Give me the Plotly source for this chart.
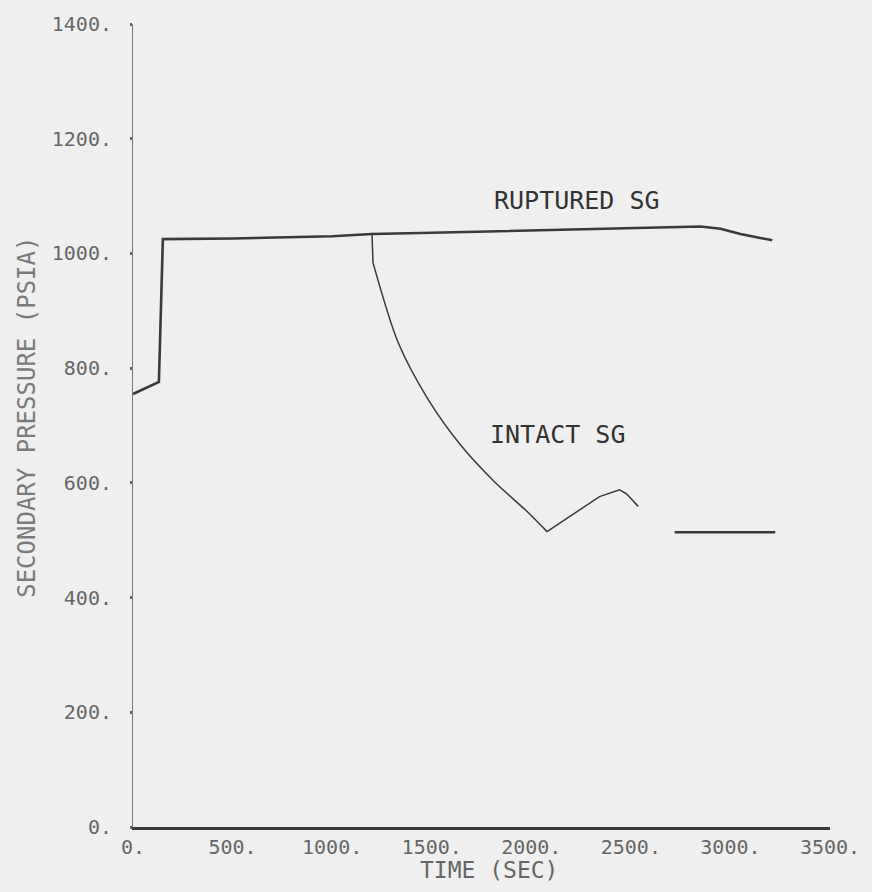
import plotly.graph_objects as go

# Secondary-side pressure after a steam generator tube rupture
ruptured_t = [0, 130, 150, 500, 1000, 1200, 1500, 2000, 2500, 2850, 2950, 3050, 3150, 3210]
ruptured_p = [755, 776, 1025, 1026, 1030, 1034, 1036, 1040, 1044, 1047, 1043, 1034, 1027, 1023]

intact_t = [1200, 1205, 1331, 1481, 1645, 1815, 1979, 2079, 2228, 2343, 2443, 2478, 2537]
intact_p = [1036, 984, 845, 746, 666, 602, 550, 515, 550, 576, 588, 581, 559]

intact_late_t = [2720, 2722, 2760, 3000, 3225]
intact_late_p = [514, 514, 514, 514, 514]

x_ticks = [0, 500, 1000, 1500, 2000, 2500, 3000, 3500]
x_labels = ["0.", "500.", "1000.", "1500.", "2000.", "2500.", "3000.", "3500."]
y_ticks = [0, 200, 400, 600, 800, 1000, 1200, 1400]
y_labels = ["0.", "200.", "400.", "600.", "800.", "1000.", "1200.", "1400."]

ink = "#3a3a3a"
label_ink = "#666666"
paper = "#efefef"
mono = "DejaVu Sans Mono"

# the depressurisation of the intact generator is smooth down to its minimum
i_min = intact_p.index(min(intact_p))

fig = go.Figure()
fig.add_trace(go.Scatter(x=ruptured_t, y=ruptured_p, mode="lines",
                         line=dict(color=ink, width=2.6), showlegend=False))
fig.add_trace(go.Scatter(x=intact_t[1:i_min + 1], y=intact_p[1:i_min + 1], mode="lines",
                         line=dict(color=ink, width=1.5, shape="spline", smoothing=0.8),
                         showlegend=False))
fig.add_trace(go.Scatter(x=intact_t[:2], y=intact_p[:2], mode="lines",
                         line=dict(color=ink, width=1.5), showlegend=False))
fig.add_trace(go.Scatter(x=intact_t[i_min:], y=intact_p[i_min:], mode="lines",
                         line=dict(color=ink, width=1.5), showlegend=False))
fig.add_trace(go.Scatter(x=intact_late_t, y=intact_late_p, mode="lines",
                         line=dict(color=ink, width=2.6), showlegend=False))

fig.update_layout(
    width=872, height=892,
    margin=dict(l=133, r=37, t=20, b=65),
    paper_bgcolor=paper, plot_bgcolor=paper,
    xaxis=dict(range=[0, 3500], tickvals=x_ticks, ticktext=x_labels,
               showgrid=False, zeroline=False, showline=True,
               linecolor=ink, linewidth=2.6, ticks="",
               ticklabelstandoff=0,
               tickfont=dict(family=mono, size=20, color=label_ink)),
    yaxis=dict(range=[0, 1400], tickvals=y_ticks, ticktext=y_labels,
               showgrid=False, zeroline=False, showline=True,
               linecolor="#777777", linewidth=1, ticks="outside",
               ticklen=2, tickwidth=3, tickcolor="#666666",
               ticklabelstandoff=14,
               tickfont=dict(family=mono, size=20, color=label_ink)),
    annotations=[
        dict(text="RUPTURED SG", x=2230, y=1093, xref="x", yref="y",
             showarrow=False, font=dict(family=mono, size=25, color="#333333")),
        dict(text="INTACT SG", x=2130, y=685, xref="x", yref="y",
             showarrow=False, font=dict(family=mono, size=25, color="#333333")),
        dict(text="TIME (SEC)", x=(492 - 133) / 702, y=(827 - 870) / 807,
             xref="paper", yref="paper", showarrow=False,
             xanchor="center", yanchor="middle",
             font=dict(family=mono, size=23, color=label_ink)),
        dict(text="SECONDARY PRESSURE (PSIA)", x=(26 - 133) / 702,
             y=(827 - 415) / 807, xref="paper", yref="paper",
             showarrow=False, textangle=-90, xanchor="center", yanchor="middle",
             font=dict(family=mono, size=24, color="#7a7a7a")),
    ],
)

fig.write_html("out.html")
